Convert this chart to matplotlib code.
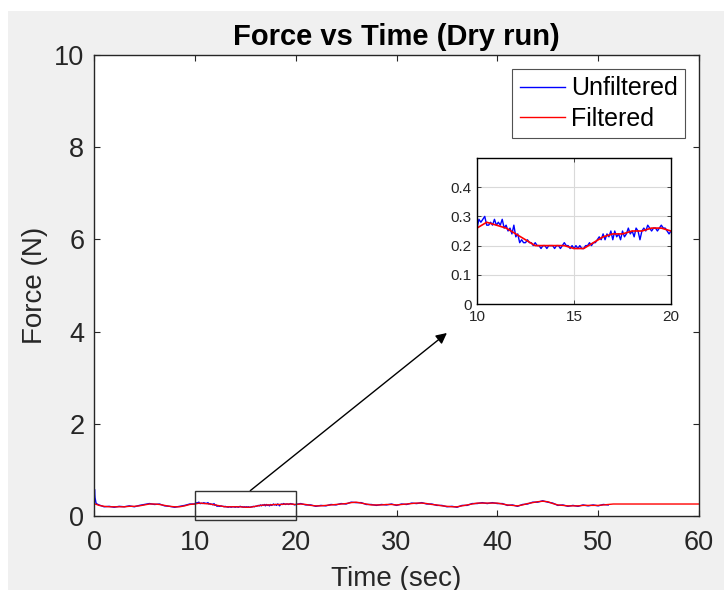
import numpy as np
import matplotlib
matplotlib.use("Agg")
import matplotlib.pyplot as plt
from matplotlib.patches import Rectangle

plt.rcParams["font.family"] = ["Liberation Sans", "DejaVu Sans"]

# filtered force, every 0.5 s from 0 to 60 s
FILT_T = np.arange(0, 60.5, 0.5)
FILT_F = [
    0.27, 0.23, 0.21, 0.20, 0.20, 0.20, 0.20, 0.21, 0.21, 0.22,
    0.24, 0.26, 0.26, 0.25, 0.23, 0.21, 0.20, 0.20, 0.22, 0.25,
    0.26, 0.28, 0.27, 0.26, 0.24, 0.22, 0.20, 0.20, 0.20, 0.20,
    0.19, 0.19, 0.21, 0.23, 0.24, 0.24, 0.25, 0.25, 0.26, 0.26,
    0.25, 0.26, 0.25, 0.23, 0.22, 0.22, 0.23, 0.24, 0.25, 0.26,
    0.27, 0.29, 0.30, 0.28, 0.26, 0.24, 0.24, 0.24, 0.25, 0.25,
    0.24, 0.25, 0.26, 0.27, 0.28, 0.28, 0.27, 0.25, 0.24, 0.22,
    0.21, 0.20, 0.20, 0.22, 0.24, 0.26, 0.28, 0.28, 0.28, 0.28,
    0.28, 0.26, 0.24, 0.23, 0.22, 0.24, 0.27, 0.29, 0.31, 0.32,
    0.31, 0.27, 0.24, 0.23, 0.22, 0.22, 0.22, 0.23, 0.23, 0.23,
    0.23, 0.24, 0.25, 0.26, 0.26, 0.26, 0.26, 0.26, 0.26, 0.26,
    0.26, 0.26, 0.26, 0.26, 0.26, 0.26, 0.26, 0.26, 0.26, 0.26,
    0.26,
]

# unfiltered force: start spike, then 0.5 s steps, 0.1 s steps in 10-20 s, 0.5 s steps to 51 s
UNF_T_START = [0.0, 0.05, 0.1, 0.2, 0.3]
UNF_F_START = [0.30, 0.58, 0.40, 0.28, 0.26]

UNF_T_A = np.arange(0.5, 10.0, 0.5)
UNF_F_A = [0.24, 0.20, 0.21, 0.19, 0.21, 0.20, 0.22, 0.20, 0.23, 0.25,
           0.27, 0.25, 0.26, 0.22, 0.21, 0.19, 0.21, 0.23, 0.26]

UNF_T_B = np.round(np.arange(10.0, 20.05, 0.1), 1)
UNF_F_B = [
    0.26, 0.29, 0.28, 0.29, 0.30, 0.27, 0.27, 0.28, 0.27, 0.29,
    0.27, 0.28, 0.27, 0.29, 0.26, 0.27, 0.25, 0.26, 0.24, 0.27,
    0.23, 0.24, 0.21, 0.22, 0.21, 0.21, 0.22, 0.21, 0.21, 0.20,
    0.21, 0.20, 0.20, 0.19, 0.20, 0.20, 0.19, 0.20, 0.20, 0.20,
    0.19, 0.20, 0.20, 0.19, 0.20, 0.21, 0.20, 0.20, 0.19, 0.20,
    0.19, 0.20, 0.19, 0.20, 0.19, 0.19, 0.20, 0.20, 0.21, 0.20,
    0.21, 0.21, 0.22, 0.23, 0.22, 0.24, 0.22, 0.24, 0.23, 0.25,
    0.22, 0.25, 0.23, 0.24, 0.22, 0.25, 0.23, 0.24, 0.26, 0.24,
    0.25, 0.23, 0.26, 0.25, 0.22, 0.25, 0.26, 0.25, 0.27, 0.26,
    0.25, 0.26, 0.26, 0.25, 0.26, 0.27, 0.26, 0.26, 0.25, 0.24,
    0.25,
]

UNF_T_C = np.arange(20.5, 51.5, 0.5)
UNF_F_C = [
    0.27, 0.24, 0.24, 0.21, 0.23, 0.22, 0.25, 0.24, 0.27, 0.26,
    0.30, 0.29, 0.29, 0.25, 0.25, 0.23, 0.25, 0.24, 0.26, 0.23,
    0.26, 0.25, 0.28, 0.27, 0.29, 0.26, 0.26, 0.23, 0.23, 0.20,
    0.21, 0.19, 0.23, 0.23, 0.27, 0.27, 0.29, 0.27, 0.29, 0.27,
    0.27, 0.23, 0.24, 0.21, 0.25, 0.26, 0.30, 0.30, 0.33, 0.30,
    0.28, 0.23, 0.24, 0.21, 0.23, 0.21, 0.24, 0.22, 0.24, 0.22,
    0.25, 0.24,
]

unf_t = np.concatenate([UNF_T_START, UNF_T_A, UNF_T_B, UNF_T_C])
unf_f = np.concatenate([UNF_F_START, UNF_F_A, UNF_F_B, UNF_F_C])

W, H = 724, 590
fig = plt.figure(figsize=(W / 100, H / 100), dpi=100, facecolor="white")
fig.patches.append(Rectangle((8 / W, 0), 1, (H - 11) / H, transform=fig.transFigure,
                             facecolor="#f0f0f0", edgecolor="none", zorder=-10))

ink = "#262626"
ax = fig.add_axes([94 / W, (H - 516) / H, 605 / W, (516 - 55) / H])
ax.plot(unf_t, unf_f, color="#0000ff", lw=1.0, label="Unfiltered")
ax.plot(FILT_T, FILT_F, color="#ff0000", lw=1.0, label="Filtered")
ax.set_xlim(0, 60)
ax.set_ylim(0, 10)
ax.set_xticks(range(0, 61, 10))
ax.set_yticks(range(0, 11, 2))
ax.tick_params(direction="in", top=True, right=True, length=4, width=0.8,
               labelsize=19.5, colors=ink, labelcolor=ink)
ax.tick_params(axis="x", pad=10)
ax.tick_params(axis="y", pad=7)
for s in ax.spines.values():
    s.set_color(ink)
    s.set_linewidth(1.0)
ax.set_title("Force vs Time (Dry run)", fontsize=21, fontweight="bold", pad=7)
ax.set_xlabel("Time (sec)", fontsize=20, color=ink, labelpad=7)
ax.set_ylabel("Force (N)", fontsize=20, color=ink, labelpad=4)
leg = ax.legend(loc="upper right", fontsize=18, frameon=True, fancybox=False,
                borderaxespad=0.55, handlelength=1.8, handletextpad=0.25,
                borderpad=0.3, labelspacing=0.25)
leg.get_frame().set_edgecolor(ink)
leg.get_frame().set_linewidth(0.8)

# zoom box and arrow
ax.add_patch(Rectangle((10, -0.09), 10, 0.64, fill=False, edgecolor="#333333",
                       lw=1.0, clip_on=False, zorder=5))
ax.annotate("", xy=(35, 3.97), xytext=(15.5, 0.55),
            arrowprops=dict(arrowstyle="-|>", color="black", lw=1.0,
                            mutation_scale=16, shrinkA=0, shrinkB=0))

# inset
ins = fig.add_axes([477 / W, (H - 304) / H, 194 / W, 146 / H])
ins.plot(unf_t, unf_f, color="#0000ff", lw=1.0)
ins.plot(FILT_T, FILT_F, color="#ff0000", lw=1.2)
ins.set_xlim(10, 20)
ins.set_ylim(0, 0.5)
ins.set_xticks([10, 15, 20])
ins.set_yticks([0, 0.1, 0.2, 0.3, 0.4])
ins.set_yticklabels(["0", "0.1", "0.2", "0.3", "0.4"])
ins.grid(True, color="#d9d9d9", lw=0.8)
ins.set_axisbelow(True)
ins.tick_params(direction="in", top=True, right=True, length=3, width=0.6,
                labelsize=11, colors=ink, labelcolor=ink, pad=4)
for s in ins.spines.values():
    s.set_color("black")
    s.set_linewidth(1.0)

fig.savefig("out.png", dpi=100, facecolor=fig.get_facecolor())
